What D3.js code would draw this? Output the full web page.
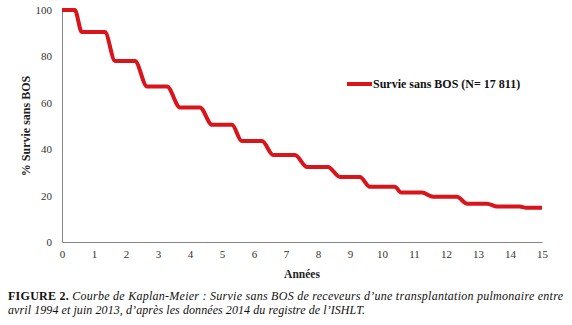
<!DOCTYPE html>
<html>
<head>
<meta charset="utf-8">
<script src="https://cdn.jsdelivr.net/npm/d3@7"></script>
<style>
  html, body { margin: 0; padding: 0; background: #fff; }
  svg { display: block; }
</style>
</head>
<body>
<script>
// Kaplan-Meier: BOS-free survival (plateau start/end points)
const years = [0, 0.4, 0.62, 1.34, 1.66, 2.28, 2.66, 3.28, 3.69, 4.31, 4.69, 5.31,
  5.62, 6.25, 6.6, 7.28, 7.66, 8.31, 8.69, 9.31, 9.62, 10.4, 10.6, 11.25,
  11.6, 12.34, 12.66, 13.28, 13.6, 14.3, 14.5, 15];
const survival = [100, 100, 90.5, 90.5, 78, 78, 67, 67, 58, 58, 50.5, 50.5,
  43.5, 43.5, 37.5, 37.5, 32.3, 32.3, 28, 28, 23.8, 23.8, 21.3, 21.3,
  19.5, 19.5, 16.5, 16.5, 15.3, 15.3, 14.8, 14.8];
const xTicks = d3.range(0, 16);
const yTicks = [0, 20, 40, 60, 80, 100];
const seriesLabel = "Survie sans BOS (N= 17 811)";
const xTitle = "Années";
const yTitle = "% Survie sans BOS";

const W = 572, H = 325;
const svg = d3.select("body").append("svg").attr("width", W).attr("height", H);

const x = d3.scaleLinear().domain([0, 15]).range([62, 542]);
const y = d3.scaleLinear().domain([0, 100]).range([242, 10]);

const serif = "'Liberation Serif', 'Times New Roman', serif";
const axisColor = "#868686";
const red = "#d9141b";

// axes (no tick marks)
const xAxis = svg.append("g").attr("transform", `translate(0,${y(0)})`)
  .call(d3.axisBottom(x).tickValues(xTicks).tickSize(0).tickPadding(8));
const yAxis = svg.append("g").attr("transform", `translate(${x(0)},0)`)
  .call(d3.axisLeft(y).tickValues(yTicks).tickSize(0).tickPadding(10));
[xAxis, yAxis].forEach(g => {
  g.select(".domain").attr("stroke", axisColor).attr("stroke-width", 1);
  g.selectAll("text").attr("font-family", serif).attr("font-size", 11).attr("fill", "#333");
});

// curve
const line = d3.line().x((d, i) => x(years[i])).y(d => y(d)).curve(d3.curveMonotoneX);
svg.append("path").datum(survival)
  .attr("d", line)
  .attr("fill", "none").attr("stroke", red).attr("stroke-width", 4)
  .attr("stroke-linejoin", "round").attr("stroke-linecap", "butt");

// legend
svg.append("line").attr("x1", 347).attr("x2", 372).attr("y1", 84).attr("y2", 84)
  .attr("stroke", red).attr("stroke-width", 4);
svg.append("text").attr("x", 373).attr("y", 88)
  .attr("font-family", serif).attr("font-size", 12).attr("font-weight", "bold").attr("fill", "#111")
  .text(seriesLabel);

// axis titles
svg.append("text").attr("x", 302).attr("y", 278).attr("text-anchor", "middle")
  .attr("font-family", serif).attr("font-size", 11.5).attr("font-weight", "bold").attr("fill", "#222")
  .text(xTitle);
svg.append("text").attr("transform", "translate(30,126) rotate(-90)").attr("text-anchor", "middle")
  .attr("font-family", serif).attr("font-size", 12).attr("font-weight", "bold").attr("fill", "#222")
  .text(yTitle);

// caption
const cap1 = svg.append("text").attr("x", 8).attr("y", 300)
  .attr("font-family", serif).attr("font-size", 12).attr("fill", "#111")
  .attr("textLength", 555).attr("lengthAdjust", "spacing");
cap1.append("tspan").attr("font-weight", "bold").text("FIGURE 2. ");
cap1.append("tspan").attr("font-style", "italic")
  .text("Courbe de Kaplan-Meier : Survie sans BOS de receveurs d’une transplantation pulmonaire entre");
svg.append("text").attr("x", 8).attr("y", 314)
  .attr("font-family", serif).attr("font-size", 12).attr("font-style", "italic").attr("fill", "#111")
  .attr("textLength", 357).attr("lengthAdjust", "spacing")
  .text("avril 1994 et juin 2013, d’après les données 2014 du registre de l’ISHLT.");
</script>
</body>
</html>
